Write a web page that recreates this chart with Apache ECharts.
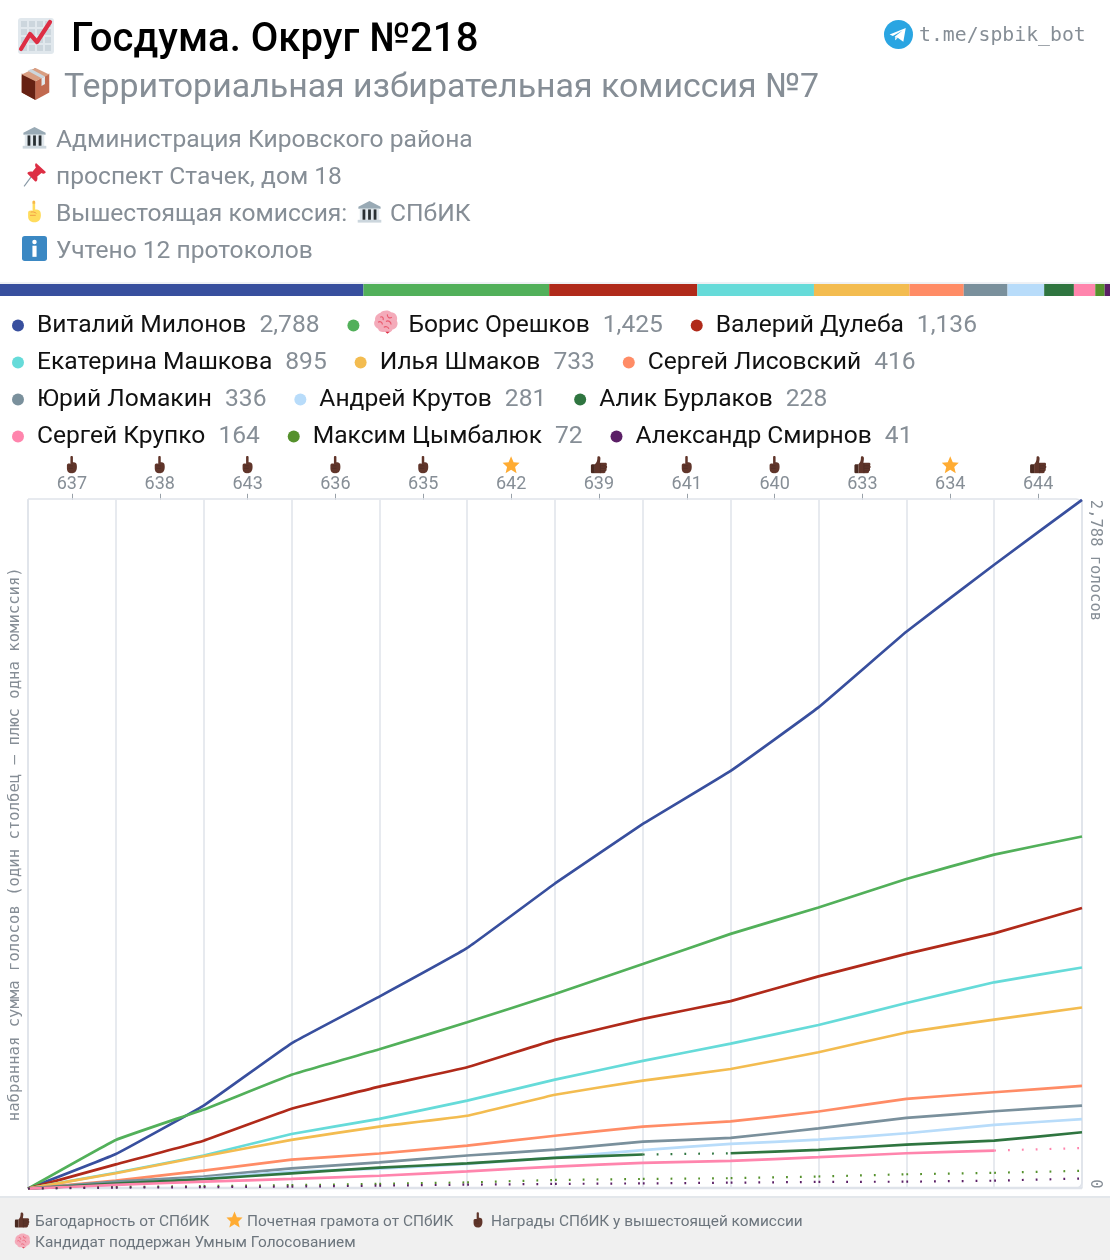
<!DOCTYPE html>
<html><head><meta charset="utf-8">
<style>html,body{margin:0;padding:0;background:#fff}#c{width:1110px;height:1260px}</style>
<script src="https://cdn.jsdelivr.net/npm/echarts@6/dist/echarts.min.js"></script>
</head><body><div id="c"></div>
<script>
// ---------- data ----------
const precincts = ['637','638','643','636','635','642','639','641','640','633','634','644'];
const awards = ['finger','finger','finger','finger','finger','star','thumb','finger','finger','thumb','star','thumb'];
const names = ['Виталий Милонов','Борис Орешков','Валерий Дулеба','Екатерина Машкова','Илья Шмаков','Сергей Лисовский','Юрий Ломакин','Андрей Крутов','Алик Бурлаков','Сергей Крупко','Максим Цымбалюк','Александр Смирнов'];
const totals = [2788,1425,1136,895,733,416,336,281,228,164,72,41];
const colors = ['#384f9e','#52b05a','#b02a1a','#66dbd9','#f3bc50','#ff8c66','#7a909c','#b8dcfa','#2f7540','#ff85ad','#55912c','#5b1f66'];
const milonov = [140,336,588,777,974,1235,1476,1691,1948,2254,2525,2788];
const oreshkov = [197,320,461,564,673,788,909,1031,1138,1253,1352,1425];
const duleba = [98,194,323,413,491,602,687,759,859,950,1033,1136];
const mashkova = [64,134,221,282,356,441,517,587,662,751,835,895];
const shmakov = [62,131,197,251,295,380,437,484,552,632,684,733];
const lisovsky = [32,73,117,142,174,214,251,272,312,363,390,416];
const lomakin = [28,49,82,106,134,158,190,205,244,286,313,336];
const krutov = [16,42,69,81,100,125,156,181,198,224,258,281];
const burlakov = [20,38,62,85,102,124,138,143,157,178,194,228];
const krupko = [15,28,39,52,70,89,104,112,127,143,154,164];
const tsymbalyuk = [6,10,14,19,25,35,39,42,49,58,64,72];
const smirnov = [4,6,8,12,16,19,21,24,27,28,32,41];
const allValues = [milonov,oreshkov,duleba,mashkova,shmakov,lisovsky,lomakin,krutov,burlakov,krupko,tsymbalyuk,smirnov];
// precinct numbers (1-based) whose segment is drawn dotted, per candidate
const allSegments = [1,2,3,4,5,6,7,8,9,10,11,12];
const dottedSegments = [[],[],[],[],[],[],[],[],[8],[12],allSegments,allSegments];
const maxVotes = 2788;
const totalVotes = totals.reduce((a,b)=>a+b,0);

// ---------- icons ----------
const svg = b => 'data:image/svg+xml;charset=utf-8,' + encodeURIComponent('<svg xmlns="http://www.w3.org/2000/svg" width="72" height="72" viewBox="0 0 36 36">'+b+'</svg>');
const icons = {
  chart: svg('<rect width="36" height="36" rx="3" fill="#E1E8ED"/><g fill="#CCD6DD"><rect x="3" y="3" width="6" height="6"/><rect x="11" y="3" width="6" height="6"/><rect x="19" y="3" width="6" height="6"/><rect x="27" y="3" width="6" height="6"/><rect x="3" y="11" width="6" height="6"/><rect x="11" y="11" width="6" height="6"/><rect x="19" y="11" width="6" height="6"/><rect x="27" y="11" width="6" height="6"/><rect x="3" y="19" width="6" height="6"/><rect x="11" y="19" width="6" height="6"/><rect x="19" y="19" width="6" height="6"/><rect x="27" y="19" width="6" height="6"/><rect x="3" y="27" width="6" height="6"/><rect x="11" y="27" width="6" height="6"/><rect x="19" y="27" width="6" height="6"/><rect x="27" y="27" width="6" height="6"/></g><path d="M3 31 L12 16 L19 24 L32 4" fill="none" stroke="#DD2E44" stroke-width="4.2" stroke-linejoin="round" stroke-linecap="round"/>'),
  box: svg('<path d="M18 1 L2 9 V27 L18 35 Z" fill="#A0593D"/><path d="M18 15 L2 7 V27 L18 35 Z" fill="#662113"/><path d="M18 15 L34 7 V27 L18 35 Z" fill="#C1694F"/><path d="M18 1 L34 8 L18 15 L2 8 Z" fill="#D99E82"/><path d="M9 4 L25 12 L29 10 L13 2 Z" fill="#CCD6DD"/><path d="M25 12 V20 L29 18 V10 Z" fill="#E1E8ED"/>'),
  bank: svg('<path d="M18 3 L2 11 V14 H34 V11 Z" fill="#99AAB5"/><rect x="4" y="14" width="28" height="17" fill="#E1E8ED"/><g fill="#292F33"><rect x="8" y="15" width="4" height="15"/><rect x="16" y="15" width="4" height="15"/><rect x="24" y="15" width="4" height="15"/></g><rect x="1" y="30" width="34" height="4" fill="#CCD6DD"/>'),
  pin: svg('<path d="M3 35 L15 19" stroke="#8899A6" stroke-width="1.6"/><path d="M21 2 L34 14 C35 16 31 18 28 16 L22 21 C23 26 21 29 19 28 L8 17 C7 15 10 13 15 14 L20 8 C18 5 19 1 21 2Z" fill="#DD2E44"/>'),
  point: svg('<path d="M15 3 C15 0.8 19 0.8 19 3 V15 C26 15 28 17 28 24 C28 31 24 35 18 35 C11 35 8 31 8 26 V20 C8 17 11 16 15 17Z" fill="#FFDC5D"/><path d="M12 19 C15 18 19 19 21 21 M11 24 H20" stroke="#EF9645" stroke-width="1.4" fill="none"/><path d="M15 3 C15 0.8 19 0.8 19 3 V6 H15Z" fill="#F7B74B"/>'),
  info: svg('<rect width="36" height="36" rx="4" fill="#3B88C3"/><circle cx="18" cy="8.5" r="3.2" fill="#fff"/><rect x="15" y="14" width="6" height="16" fill="#fff"/>'),
  telegram: svg('<circle cx="18" cy="18" r="18" fill="#2AA5E2"/><path d="M7 18 L27 10 L24 27 L17 22 L14 25 L13.5 20.5 L23 13 L11 20 Z" fill="#fff"/><path d="M13.5 20.5 L14 25 L17 22 Z" fill="#cfe6f3"/>'),
  brain: svg('<path d="M10 4 C14 0 22 0 25 3 C31 3 35 9 33 15 C36 20 32 27 27 27 C26 31 20 33 17 30 C12 31 8 30 7 26 C2 24 0 18 3 14 C2 9 6 5 10 4Z" fill="#F4ABBA"/><path d="M10 10 C13 8 15 11 14 14 M20 6 C19 10 23 12 26 10 M7 17 C10 15 13 17 13 20 M18 16 C21 14 25 16 25 20 M15 24 C17 22 21 23 22 26" stroke="#EA596E" stroke-width="1.6" fill="none"/><path d="M17 30 L20 33 L23 30Z" fill="#DD2E44"/>'),
  finger: svg('<path d="M15 2 C15 0 20 0 20 2 V13 C26 13 28 15 28 22 C28 31 24 35 18 35 C11 35 8 31 8 25 V19 C8 16 11 15 15 16Z" fill="#60352A"/><path d="M12 20 H20 M11 25 H20" stroke="#4a2a21" stroke-width="1.2"/>'),
  thumb: svg('<path d="M5 17 H10 V35 H5 C3 35 2 34 2 32 V20 C2 18 3 17 5 17Z" fill="#4a2a21"/><path d="M10 17 C14 13 15 9 15 3 C15 0 21 0 21 5 C21 9 20 12 20 14 H31 C34 14 35 17 33 19 C35 21 35 24 33 25 C34 28 33 30 31 31 C32 33 30 35 28 35 H10Z" fill="#60352A"/><path d="M22 20 H33 M22 25 H33 M22 30 H31 M21 15 V35" stroke="#4a2a21" stroke-width="1.2" fill="none"/>'),
  star: svg('<path d="M18 1 L23 13 L35 14 L26 22.500 L29 35 L18 28 L7 35 L10 22.500 L1 14 L13 13Z" fill="#FFAC33"/>')
};
const img = (k,x,y,w,h) => ({type:'image',silent:true,z:5,style:{image:icons[k],x:x,y:y,width:w,height:h||w}});
const txt = (t,x,y,size,color,extra) => ({type:'text',silent:true,z:5,style:Object.assign({text:t,x:x,y:y,fill:color,font:'400 '+size+'px Roboto',textVerticalAlign:'middle'},extra||{})});
const MONO = '"DejaVu Sans Mono"';
const GREY = '#868e96', GRID = '#dfe3ea';

// ---------- series ----------
const series = [];
const lineBase = (name,c,data) => ({name:name,type:'line',xAxisIndex:0,yAxisIndex:0,data:data,showSymbol:false,color:colors[c],z:3+c*0.01,silent:true,animation:false});
names.forEach((name,c)=>{
  const pts = [0].concat(allValues[c]);
  const dotted = dottedSegments[c];
  // each unbroken run of solid segments is one series
  const runs = [];
  let run = null;
  for (let seg=1; seg<=12; seg++) {
    if (dotted.includes(seg)) { run = null; continue; }
    if (!run) { run = {from:seg-1,to:seg}; runs.push(run); }
    else run.to = seg;
  }
  runs.forEach(r=>{
    series.push(Object.assign(lineBase(name,c,pts.map((v,i)=>(i>=r.from&&i<=r.to)?v:null)),{smooth:0.08,lineStyle:{width:2.7,color:colors[c]}}));
  });
  dotted.forEach(seg=>{
    series.push(Object.assign(lineBase(name,c,pts.map((v,i)=>(i===seg||i===seg-1)?v:null)),{lineStyle:{width:2.2,color:colors[c],type:[1.8,12.05]}}));
  });
  series.push({name:name,type:'bar',xAxisIndex:2,yAxisIndex:2,stack:'all',data:[totals[c]],barWidth:12,color:colors[c],silent:true,animation:false,itemStyle:{color:colors[c]}});
});

const richIcon = k => ({width:18,height:18,align:'center',backgroundColor:{image:icons[k]}});
const legendTail = '\u00a0'.repeat(8);

const chart = echarts.init(document.getElementById('c'),null,{renderer:'canvas'});
chart.setOption({
  animation:false,
  backgroundColor:'#fff',
  textStyle:{fontFamily:'Roboto'},
  grid:[
    {left:28,right:28,top:499.8,bottom:71.4,containLabel:false,outerBoundsMode:'none'},
    {left:0,right:0,top:284,height:12,outerBoundsMode:'none'}
  ],
  xAxis:[
    {type:'category',gridIndex:0,boundaryGap:false,data:[''].concat(precincts),axisLine:{show:false},axisTick:{show:false},axisLabel:{show:false},splitLine:{show:true,interval:0,lineStyle:{color:GRID,width:1.5}}},
    {type:'category',gridIndex:0,position:'top',boundaryGap:true,data:precincts,
      axisLine:{show:true,onZero:false,lineStyle:{color:'rgba(0,0,0,0)'}},axisTick:{show:true,alignWithLabel:true,length:6,inside:false,lineStyle:{color:'#98a0a8',width:1}},
      axisLabel:{interval:0,margin:6,color:GREY,
        formatter:(v,i)=>'{'+awards[i]+'|}\n{num|'+v+'}',
        rich:{finger:richIcon('finger'),thumb:richIcon('thumb'),star:richIcon('star'),
          num:{fontSize:18,fontFamily:'Roboto',color:GREY,lineHeight:20,align:'center',padding:[2,0,0,0]}}},
      splitLine:{show:false}},
    {type:'value',gridIndex:1,min:0,max:totalVotes,show:false}
  ],
  yAxis:[
    {type:'value',gridIndex:0,position:'right',min:0,max:maxVotes,interval:maxVotes,axisLine:{show:false},axisTick:{show:false},splitLine:{show:false},
      axisLabel:{rotate:-90,margin:13,align:'left',alignMinLabel:'right',alignMaxLabel:'left',verticalAlign:'middle',color:GREY,fontFamily:MONO,fontSize:15.5,
        formatter:v=>v===maxVotes?'2,788 голосов':'0',showMinLabel:true,showMaxLabel:true}},
    {type:'value',gridIndex:0,position:'left',min:0,max:maxVotes,axisLine:{show:false},axisTick:{show:false},axisLabel:{show:false},splitLine:{show:false},
      name:'набранная сумма голосов (один столбец – плюс одна комиссия)',nameLocation:'middle',nameGap:5,nameTextStyle:{color:GREY,fontFamily:MONO,fontSize:15.6}},
    {type:'category',gridIndex:1,data:['votes'],show:false}
  ],
  legend:{
    show:true,left:12,top:313,width:1060,itemGap:12,itemWidth:28,itemHeight:12,icon:'circle',selectedMode:false,padding:0,
    data:names,
    formatter:n=>{const i=names.indexOf(n);return (i===1?'{b|}':'')+'{n|'+n+'}{v|'+totals[i].toLocaleString('en-US')+'}{s|'+legendTail+'}';},
    textStyle:{rich:{
      n:{fontFamily:'Roboto',fontSize:24.6,color:'#111',lineHeight:17},
      v:{fontFamily:'Roboto',fontSize:24.6,color:GREY,lineHeight:17,padding:[0,0,0,13]},
      b:{width:36,height:17},
      s:{height:17,fontSize:8}
    }}
  },
  graphic:[
    {type:'rect',silent:true,z:1,shape:{x:28,y:499,width:1054,height:689,r:[0,6,6,0]},style:{fill:'none',stroke:GRID,lineWidth:1.5}},
    {type:'line',silent:true,z:1,shape:{x1:28,y1:1188,x2:1082,y2:1188},style:{stroke:GRID,lineWidth:2.5}},
    {type:'rect',silent:true,z:0,shape:{x:0,y:1197,width:1110,height:63},style:{fill:'#f0f0f0'}},
    {type:'line',silent:true,z:0,shape:{x1:0,y1:1197,x2:1110,y2:1197},style:{stroke:'#e3e7eb',lineWidth:2}},
    {type:'line',silent:true,z:0,shape:{x1:0,y1:283,x2:1110,y2:283},style:{stroke:'#dfe3ea',lineWidth:1}},
    img('chart',18,18,36),
    txt('Госдума. Округ №218',71,41,40.1,'#000',{font:'500 40.1px Roboto'}),
    img('box',20,67,31,34),
    txt('Территориальная избирательная комиссия №7',64,89,33.9,GREY),
    img('telegram',884,20,29),
    txt('t.me/spbik_bot',919,36,19.8,GREY,{font:'400 19.8px '+MONO}),
    img('bank',22,125,25),
    txt('Администрация Кировского района',56,141,24.6,GREY),
    img('pin',22,162,25),
    txt('проспект Стачек, дом 18',56,178,24.6,GREY),
    img('point',23,200,23),
    txt('Вышестоящая комиссия:',56,215,24.6,GREY),
    img('bank',357,199,25),
    txt('СПбИК',390,215,24.6,GREY),
    img('info',22,236,25),
    txt('Учтено 12 протоколов',56,252,24.6,GREY),
    img('brain',373,310,26),
    img('thumb',14,1212,16),
    txt('Багодарность от СПбИК',35,1222,15.4,'#6c757d'),
    img('star',226,1211,17),
    txt('Почетная грамота от СПбИК',247,1222,15.4,'#6c757d'),
    img('finger',470,1212,16),
    txt('Награды СПбИК у вышестоящей комиссии',491,1222,15.4,'#6c757d'),
    img('brain',14,1233,17),
    txt('Кандидат поддержан Умным Голосованием',35,1243,15.4,'#6c757d')
  ],
  series:series
});
</script>
</body></html>
